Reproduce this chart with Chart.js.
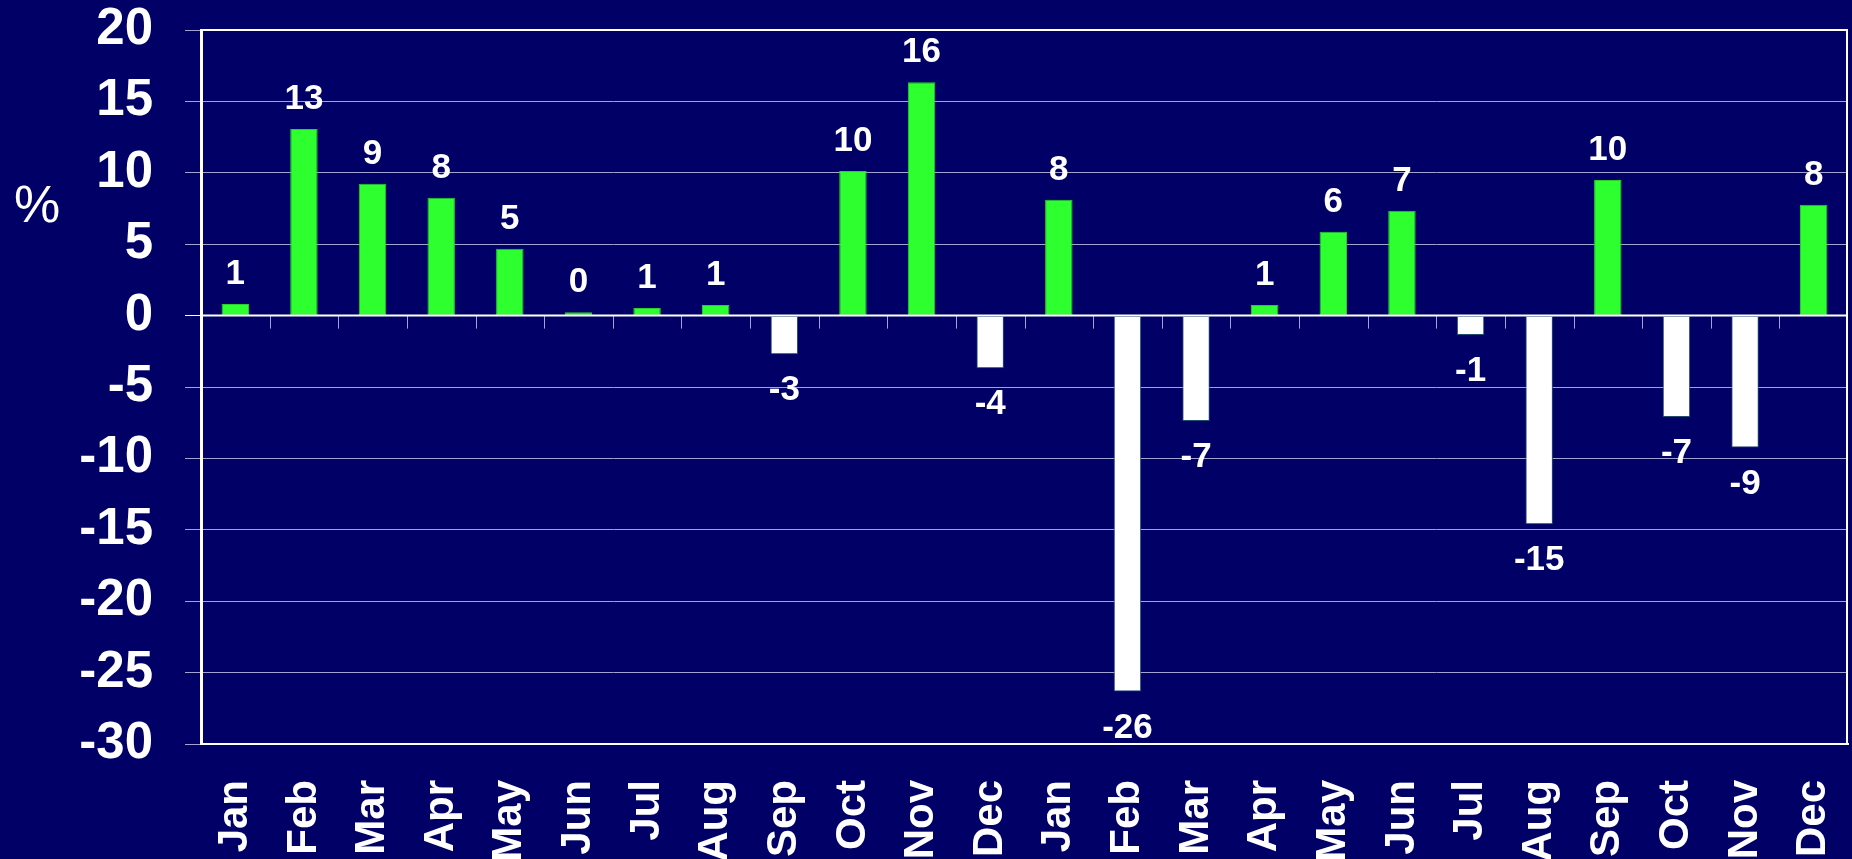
<!DOCTYPE html>
<html>
<head>
<meta charset="utf-8">
<script src="https://cdn.jsdelivr.net/npm/chart.js@4/dist/chart.umd.min.js"></script>
<style>
  html, body { margin: 0; padding: 0; background: #000066; }
  #wrap { width: 1852px; height: 859px; }
</style>
</head>
<body>
<div id="wrap"><canvas id="c" width="1852" height="859"></canvas></div>
<script>
const categories = ['Jan','Feb','Mar','Apr','May','Jun','Jul','Aug','Sep','Oct','Nov','Dec',
                    'Jan','Feb','Mar','Apr','May','Jun','Jul','Aug','Sep','Oct','Nov','Dec'];
const values = [0.82, 13.06, 9.24, 8.26, 4.69, 0.23, 0.54, 0.75, -2.71, 10.13, 16.34, -3.69,
                8.12, -26.33, -7.38, 0.75, 5.88, 7.35, -1.35, -14.61, 9.5, -7.1, -9.24, 7.77];
const valueLabels = ['1','13','9','8','5','0','1','1','-3','10','16','-4',
                     '8','-26','-7','1','6','7','-1','-15','10','-7','-9','8'];
const yMin = -30, yMax = 20, yStep = 5;
const yAxisTitle = '%';

const BG = '#000066';
const GREEN = '#2eff2e';
const WHITE = '#ffffff';
const GRID = '#a3a3d3';
const FONT = "'Liberation Sans', Arial, sans-serif";

const decorPlugin = {
  id: 'decor',
  beforeDraw(chart) {
    const ctx = chart.ctx;
    ctx.save();
    ctx.fillStyle = BG;
    ctx.fillRect(0, 0, chart.width, chart.height);
    ctx.restore();
  },
  beforeDatasetsDraw(chart) {
    const ctx = chart.ctx;
    const xs = chart.scales.x, ys = chart.scales.y;
    const y0 = ys.getPixelForValue(0);
    ctx.save();
    ctx.strokeStyle = GRID;
    ctx.lineWidth = 1;
    for (let i = 1; i < categories.length; i++) {
      const x = Math.round((xs.getPixelForValue(i - 1) + xs.getPixelForValue(i)) / 2) + 0.5;
      ctx.beginPath();
      ctx.moveTo(x, y0);
      ctx.lineTo(x, y0 + 13);
      ctx.stroke();
    }
    ctx.restore();
  },
  afterDatasetsDraw(chart) {
    const ctx = chart.ctx;
    const a = chart.chartArea;
    const ys = chart.scales.y;
    ctx.save();
    const y0 = ys.getPixelForValue(0);
    ctx.strokeStyle = WHITE;
    ctx.lineWidth = 2;
    ctx.beginPath();
    ctx.moveTo(a.left, y0);
    ctx.lineTo(a.right, y0);
    ctx.stroke();
    ctx.strokeRect(a.left + 1, a.top, a.right - a.left - 2, a.bottom - a.top);
    ctx.fillStyle = WHITE;
    ctx.font = 'bold 35px ' + FONT;
    ctx.textAlign = 'center';
    ctx.textBaseline = 'alphabetic';
    const meta = chart.getDatasetMeta(0);
    meta.data.forEach((bar, i) => {
      const v = values[i];
      const y = v >= 0 ? bar.y - 20 : bar.y + 46;
      ctx.fillText(valueLabels[i], bar.x, y);
    });
    ctx.font = '52px ' + FONT;
    ctx.fillText(yAxisTitle, 37, 222);
    ctx.restore();
  }
};

new Chart(document.getElementById('c'), {
  type: 'bar',
  data: {
    labels: categories,
    datasets: [{
      data: values,
      backgroundColor: values.map(v => v >= 0 ? GREEN : WHITE),
      borderColor: values.map(v => v >= 0 ? '#28d028' : '#1d4d70'),
      borderWidth: 1,
      borderSkipped: false,
      barPercentage: 0.4,
      categoryPercentage: 1.0
    }]
  },
  options: {
    responsive: false,
    animation: false,
    devicePixelRatio: 1,
    layout: { padding: { left: 0, right: 4, top: 30, bottom: 0 } },
    plugins: { legend: { display: false }, tooltip: { enabled: false }, title: { display: false } },
    scales: {
      x: {
        offset: true,
        grid: { display: false, drawTicks: false },
        border: { display: true, color: WHITE, width: 2 },
        ticks: {
          color: WHITE,
          font: { family: FONT, size: 42, weight: 'bold' },
          maxRotation: 90, minRotation: 90,
          padding: 36,
          autoSkip: false
        },
        afterFit(scale) {
          scale.height = 115;
          scale.paddingLeft = 0; scale.paddingRight = 0;
          scale.paddingTop = 0; scale.paddingBottom = 0;
        }
      },
      y: {
        min: yMin, max: yMax,
        grid: {
          color: ctx => (ctx.tick && ctx.tick.value === 0) ? WHITE : GRID,
          lineWidth: 1,
          tickLength: 16,
          drawTicks: true
        },
        border: { display: true, color: WHITE, width: 2 },
        ticks: {
          stepSize: yStep,
          color: WHITE,
          font: { family: FONT, size: 51, weight: 'bold' },
          padding: 32
        },
        afterFit(scale) {
          scale.width = 201;
          scale.paddingLeft = 0; scale.paddingRight = 0;
          scale.paddingTop = 0; scale.paddingBottom = 0;
        }
      }
    }
  },
  plugins: [decorPlugin]
});
</script>
</body>
</html>
